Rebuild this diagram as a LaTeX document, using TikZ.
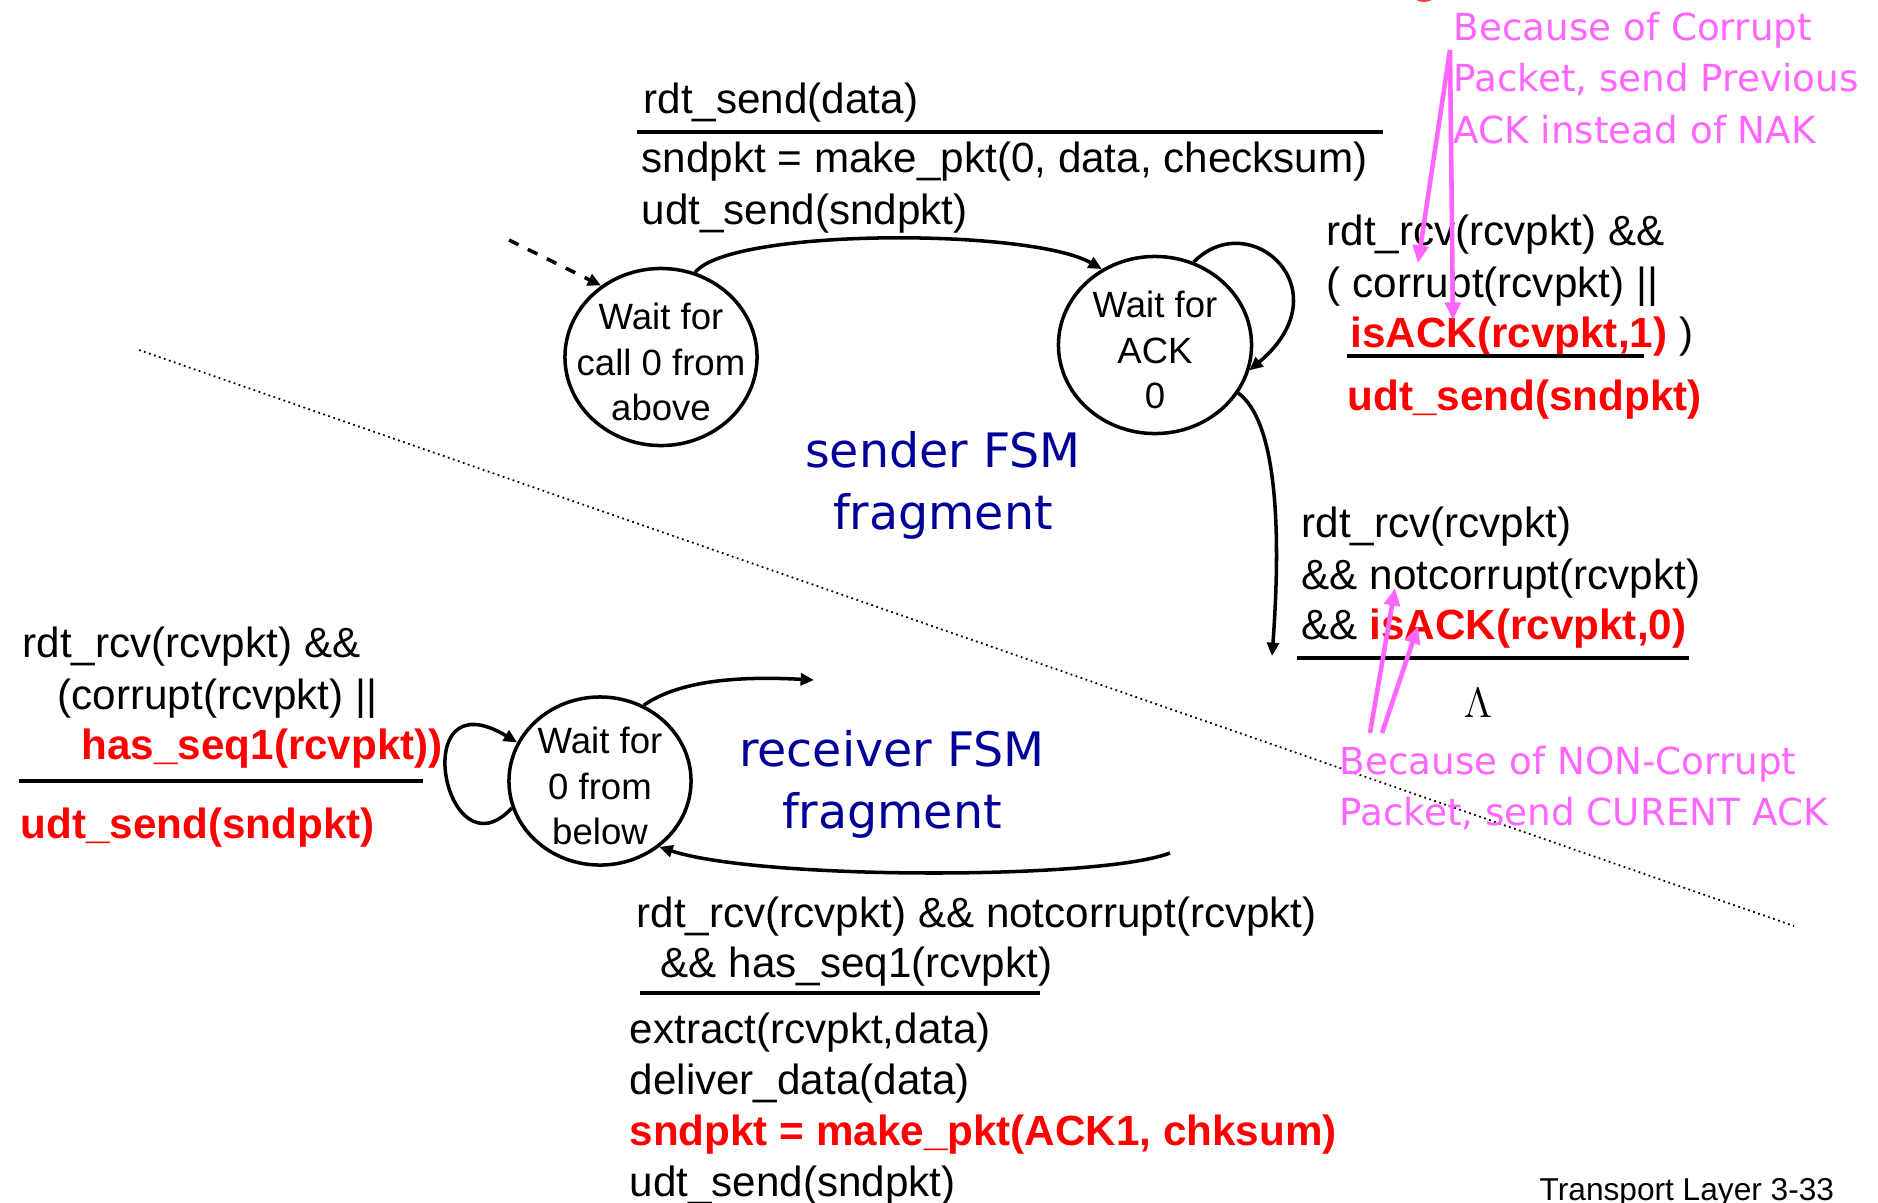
\documentclass[tikz,border=0pt]{standalone}
\usepackage{fontspec}
\setmainfont{Liberation Sans}
\newfontfamily\notefont{DejaVu Sans}
\usepackage{xcolor}
\usepackage{tikz}
\usetikzlibrary{arrows.meta}
\usetikzlibrary{shapes.geometric}

\definecolor{notepink}{RGB}{255,102,255}
\definecolor{fsmblue}{RGB}{0,0,153}
\definecolor{actred}{RGB}{255,0,0}

\tikzset{
    txt/.style = {align=left, inner sep=0pt, anchor=west, yshift=-0.04cm},
    act_text/.style = {txt, font=\fontsize{12}{14.66}\selectfont},
    hot_text/.style = {txt, text=actred, font=\fontsize{12}{14.66}\selectfont\bfseries},
    note_text/.style = {align=left, inner sep=0pt, anchor=west, text=notepink, font=\notefont\fontsize{10.6}{14.66}\selectfont},
    fsm_text/.style = {align=center, inner sep=0pt, text=fsmblue, font=\notefont\fontsize{13.5}{17.6}\selectfont},
    state_node/.style = {ellipse, draw=black, line width=1pt, inner sep=0pt},
    state_text/.style = {align=center, inner sep=0pt, yshift=-0.05cm, font=\fontsize{10.4}{12.9}\selectfont},
    guard_bar/.style = {line width=1.4pt},
    trans/.style = {->, line width=1pt},
    note_arrow/.style = {-{Triangle[length=5pt, width=4.4pt]}, draw=notepink, line width=1.3pt}
}

\begin{document}
\begin{tikzpicture}
            [x=0.01cm, y=-0.01cm,
            >={Triangle[length=3.8pt, width=3.4pt]}]

            \useasboundingbox (0,0) rectangle (1878,1202);
            \fill[actred!75] (1424,-14) circle[radius=0.16cm];

            % divider
            \coordinate (divA) at (139,350);
            \coordinate (divB) at (1794,926);
            \draw[densely dotted, line width=0.5pt] (divA) -- (divB);

            % sender states
            \node [state_node, minimum width=1.92cm, minimum height=1.77cm,
                label={[state_text]center:{Wait for\\call 0 from\\above}}] (call0) at (661,357) {};
            \node [state_node, minimum width=1.93cm, minimum height=1.77cm,
                label={[state_text]center:{Wait for\\ACK\\0}}] (ack0) at (1155,345) {};

            % receiver state
            \node [state_node, minimum width=1.82cm, minimum height=1.68cm,
                label={[state_text]center:{Wait for\\0 from\\below}}] (below0) at (600,781) {};

            % transitions
            \coordinate (init) at (509,240);
            \draw[trans, dashed] (init) -- (call0.130);
            \draw[trans] (call0.68) .. controls (730,228) and (1030,228) .. (ack0.125);
            \draw[trans] (ack0.65) .. controls (1250,205) and (1345,290) .. (ack0.-15);
            \coordinate (ackdown) at (1272,656);
            \draw[trans] (ack0.-30) .. controls (1275,420) and (1282,520) .. (ackdown);
            \draw[trans] (below0.197) .. controls (445,880) and (405,675) .. (below0.155);
            \coordinate (rcvout) at (814,680);
            \draw[trans] (below0.60) .. controls (680,680) and (740,676) .. (rcvout);
            \coordinate (rcvin) at (1170,853);
            \draw[trans] (rcvin) .. controls (1100,880) and (760,880) .. (below0.-48);

            % sender: call 0 -> ack 0
            \node [act_text] (sendev) at (643,99) {rdt\_send(data)};
            \draw[guard_bar] (637,132) -- (1383,132);
            \node [act_text] (sendmk) at (641,158) {sndpkt = make\_pkt(0, data, checksum)};
            \node [act_text] (sendudt) at (641,210) {udt\_send(sndpkt)};

            % sender: ack 0 self loop
            \node [act_text] (badrcv) at (1326,231) {rdt\_rcv(rcvpkt) \&\&};
            \node [act_text] (badcor) at (1326,283) {( corrupt(rcvpkt) ||};
            \node [act_text] (badack) at (1350,333) {\textcolor{actred}{\bfseries isACK(rcvpkt,1)} )};
            \draw[guard_bar] (1347,356) -- (1644,356);
            \node [hot_text] (badudt) at (1347,396) {udt\_send(sndpkt)};

            % sender: ack 0 leaves
            \node [act_text] (okrcv) at (1301,523) {rdt\_rcv(rcvpkt)};
            \node [act_text] (okcor) at (1301,575) {\&\& notcorrupt(rcvpkt)};
            \node [act_text] (okack) at (1301,625) {\&\& \textcolor{actred}{\bfseries isACK(rcvpkt,0)}};
            \draw[guard_bar] (1297,658) -- (1689,658);
            \node [font=\fontsize{12}{14}\selectfont, inner sep=0pt] (nullact) at (1478,703) {$\Lambda$};

            % receiver: self loop
            \node [act_text] (duprcv) at (22,643) {rdt\_rcv(rcvpkt) \&\&};
            \node [act_text] (dupcor) at (57,695) {(corrupt(rcvpkt) ||};
            \node [hot_text] (dupseq) at (81,745) {has\_seq1(rcvpkt))};
            \draw[guard_bar] (19,781) -- (423,781);
            \node [hot_text] (dupudt) at (20,824) {udt\_send(sndpkt)};

            % receiver: in-order packet
            \node [act_text] (inrcv) at (636,913) {rdt\_rcv(rcvpkt) \&\& notcorrupt(rcvpkt)};
            \node [act_text] (inseq) at (660,963) {\&\& has\_seq1(rcvpkt)};
            \draw[guard_bar] (640,993) -- (1040,993);
            \node [act_text] (inext) at (629,1029) {extract(rcvpkt,data)};
            \node [act_text] (indel) at (629,1080) {deliver\_data(data)};
            \node [hot_text] (inmk) at (629,1131) {sndpkt = make\_pkt(ACK1, chksum)};
            \node [act_text] (inudt) at (629,1182) {udt\_send(sndpkt)};

            % fragment titles
            \node [fsm_text] (sendfsm) at (943,485) {sender FSM\\fragment};
            \node [fsm_text] (rcvfsm) at (892,784) {receiver FSM\\fragment};

            % notes
            \node [note_text] (prevnote) at (1453,78) {Because of Corrupt\\Packet, send Previous\\ACK instead of NAK};
            \coordinate (prevtail) at (1450,50);
            \coordinate (prevhitA) at (1418,263);
            \coordinate (prevhitB) at (1453,320);
            \draw[note_arrow] (prevtail) -- (prevhitA);
            \draw[note_arrow] (prevtail) -- (prevhitB);

            \node [note_text] (curnote) at (1339,788) {Because of NON-Corrupt\\Packet, send CURENT ACK};
            \coordinate (curtailA) at (1370,733);
            \coordinate (curtailB) at (1382,733);
            \coordinate (curhitA) at (1395,588);
            \coordinate (curhitB) at (1418,626);
            \draw[note_arrow] (curtailA) -- (curhitA);
            \draw[note_arrow] (curtailB) -- (curhitB);

            \node [txt, font=\fontsize{9}{11}\selectfont] (slide) at (1539,1189) {Transport Layer 3-33};
        \end{tikzpicture}
\end{document}
